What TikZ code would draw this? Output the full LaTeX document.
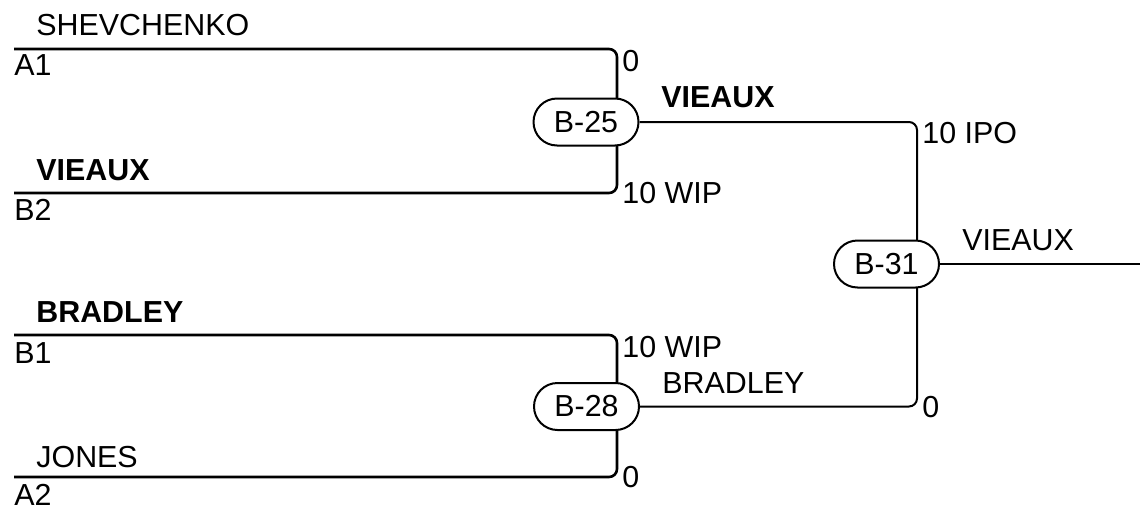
\documentclass[tikz,border=0pt]{standalone}
\usepackage{fontspec}
\setmainfont{Liberation Sans}
\usetikzlibrary{calc,backgrounds}
\begin{document}
\begin{tikzpicture}[x=0.5pt,y=-0.5pt,
  every node/.style={font=\fontsize{15.2}{18}\selectfont},
  lbl/.style={anchor=base west,inner sep=0pt},
  win/.style={lbl,font=\fontsize{15.2}{18}\selectfont\bfseries},
  matchbox/.style={draw,line width=1pt,fill=white,rounded corners=11.75pt,
    minimum width=52.5pt,minimum height=23.5pt,inner sep=0pt},
  entrant/.style={line width=1.3pt,rounded corners=4pt},
  conn/.style={line width=1pt,rounded corners=4pt}]
\useasboundingbox (0,0) rectangle (1140,504);
% match nodes
\node[matchbox] (b25) at (586,122) {B-25};
\node[matchbox] (b28) at (586.5,406.5) {B-28};
\node[matchbox] (b31) at (886.5,264) {B-31};
% entrant line ends
\coordinate (ea1) at (14,49);
\coordinate (eb2) at (14,193);
\coordinate (eb1) at (14,335);
\coordinate (ea2) at (14,477);
\coordinate (fin) at (1140,264);
\begin{scope}[on background layer]
\draw[entrant] (ea1) -| ($(b25)+(31,0)$);
\draw[entrant] (eb2) -| ($(b25)+(31,0)$);
\draw[entrant] (eb1) -| ($(b28)+(30.5,0)$);
\draw[entrant] (ea2) -| ($(b28)+(30.5,0)$);
\draw[conn] (b25.east) -| ($(b31)+(30.5,0)$);
\draw[conn] (b28.east) -| ($(b31)+(30.5,0)$);
\draw[conn] (b31.east) -- (fin);
\end{scope}
% entrant labels
\node[lbl] (tshev) at (36,35) {SHEVCHENKO};
\node[lbl] (ta1) at (14,75) {A1};
\node[win] (tvie1) at (36,180) {VIEAUX};
\node[lbl] (tb2) at (14,220) {B2};
\node[win] (tbra1) at (36,322) {BRADLEY};
\node[lbl] (tb1) at (14,363) {B1};
\node[lbl] (tjon) at (36,467) {JONES};
\node[lbl] (ta2) at (14,505) {A2};
% scores and winners
\node[lbl] (s1) at (622,71) {0};
\node[win] (tvie2) at (661,107) {VIEAUX};
\node[lbl] (s2) at (622,203) {10 WIP};
\node[lbl] (s3) at (622,357) {10 WIP};
\node[lbl] (tbra2) at (662,393) {BRADLEY};
\node[lbl] (s4) at (622,487) {0};
\node[lbl] (s5) at (922,143) {10 IPO};
\node[lbl] (tvie3) at (962,250) {VIEAUX};
\node[lbl] (s6) at (922,417) {0};
\end{tikzpicture}
\end{document}
